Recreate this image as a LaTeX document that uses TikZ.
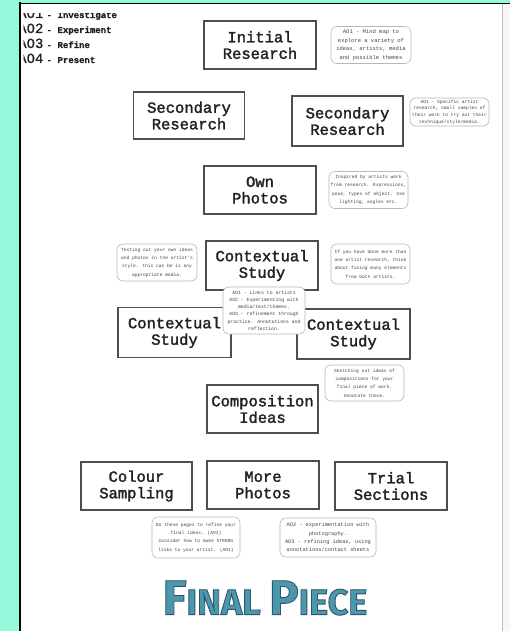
\documentclass[tikz,border=0pt]{standalone}
\usepackage{fontspec}
\usepackage{xcolor}
\usepackage{tikz}
\usetikzlibrary{positioning}
\setmonofont{Liberation Mono}
\newfontfamily\boxfont{Liberation Mono}[FakeBold=2]
\newfontfamily\legendfont{Liberation Mono}[FakeBold=1]
\newfontfamily\notefont{Liberation Mono}
\newfontfamily\piecefont{Fira Sans}
\definecolor{aqua}{HTML}{94F8DB}
\definecolor{ink}{HTML}{222222}
\definecolor{frame}{HTML}{4E4E4E}
\definecolor{notegrey}{HTML}{B8B8B8}
\definecolor{noteink}{HTML}{454545}
\definecolor{piece}{HTML}{4B98AE}
% fill and stroke the title letters
\newcommand{\outlined}[1]{\special{pdf:literal direct 0.9 w 0.18 0.34 0.40 RG 2 Tr}#1\special{pdf:literal direct 0 Tr}}
\newcommand{\initcap}[1]{{\fontsize{49}{49}\selectfont #1}}
\tikzset{
  box/.style={rectangle, draw=frame, line width=1.3pt, fill=white, align=center, inner sep=0pt,
              font=\boxfont\fontsize{15.5}{16.5}\selectfont, text=ink, minimum width=112pt, minimum height=48pt},
  note/.style={rectangle, rounded corners=6pt, draw=notegrey, line width=0.6pt, fill=white, align=center,
               inner sep=0pt, font=\notefont\fontsize{4.6}{8.4}\selectfont, text=noteink,
               minimum width=79pt, minimum height=37pt},
  legend/.style={anchor=base west, inner sep=0pt, text=ink},
  title/.style={font=\piecefont\bfseries\fontsize{36}{36}\selectfont, text=piece, inner sep=0pt}
}
\begin{document}
\begin{tikzpicture}[x=1pt, y=-1pt]
 \fill[aqua] (0,0) rectangle (510,631);
 \useasboundingbox (0,0) rectangle (510,631);
 \fill[white] (20,3.5) rectangle (502,631);
 \fill[black!3] (502,3.5) rectangle (510,631);
 \draw[black!25, line width=0.6pt] (502,3.5) -- (502,631);
 \draw[black, line width=2pt] (20,2.5) -- (20,631);
 \draw[black, line width=1.3pt] (19,3.5) -- (510,3.5);

 % key, cut off by the page edge
 \begin{scope}
  \clip (23.5,14) rectangle (200,80);
  \node[legend] (k1) at (18,18) {{\legendfont\fontsize{14}{14}\selectfont AO1} {\legendfont\bfseries\fontsize{9}{9}\selectfont - Investigate}};
  \node[legend] (k2) at (18,33) {{\legendfont\fontsize{14}{14}\selectfont AO2} {\legendfont\bfseries\fontsize{9}{9}\selectfont - Experiment}};
  \node[legend] (k3) at (18,48) {{\legendfont\fontsize{14}{14}\selectfont AO3} {\legendfont\bfseries\fontsize{9}{9}\selectfont - Refine}};
  \node[legend] (k4) at (18,63) {{\legendfont\fontsize{14}{14}\selectfont AO4} {\legendfont\bfseries\fontsize{9}{9}\selectfont - Present}};
 \end{scope}

 \node[box] (init) at (260,45) {Initial\\Research};
 \node[box, minimum width=111pt, minimum height=47pt] (secL) at (189,115.5) {Secondary\\Research};
 \node[box, minimum width=111pt, minimum height=50pt] (secR) at (347.5,121) {Secondary\\Research};
 \node[box] (own) at (260,190) {Own\\Photos};
 \node[box, line width=1.7pt, minimum height=49pt] (ctx) at (262,265.5) {Contextual\\Study};
 \node[box, minimum width=113pt, minimum height=50pt] (ctxL) at (174.5,332.5) {Contextual\\Study};
 \node[box, minimum width=113pt, minimum height=50pt] (ctxR) at (353.5,334) {Contextual\\Study};
 \node[box, minimum width=111pt] (comp) at (262.5,409) {Composition\\Ideas};
 \node[box, minimum width=111pt] (col) at (136.5,486) {Colour\\Sampling};
 \node[box] (more) at (263,485) {More\\Photos};
 \node[box] (trial) at (391,486) {Trial\\Sections};

 \node[note, right=14pt of init, minimum width=80pt, font=\notefont\fontsize{5.5}{8.7}\selectfont] (nInit) {AO1 - Mind map to\\explore a variety of\\ideas, artists, media\\and possible themes};
 \node[note, minimum height=28pt, font=\notefont\fontsize{4.6}{6.6}\selectfont] (nSec) at (449.5,112) {AO1 - Specific artist\\research, small samples of\\their work to try out their\\technique/style/media.};
 \node[note, right=12pt of own] (nOwn) {Inspired by artists work\\from research. Expressions,\\pose, types of object. Use\\lighting, angles etc.};
 \node[note, minimum width=80pt] (nCtxL) at (157,262.5) {Testing out your own ideas\\and photos in the artist's\\style. this can be is any\\appropriate media.};
 \node[note, minimum height=40pt] (nCtxR) at (370.5,264) {If you have done more than\\one artist research, think\\about fusing many elements\\from both artists.};
 \node[note, minimum width=82pt, minimum height=47pt, font=\notefont\fontsize{4.8}{7.2}\selectfont] (nMid) at (264,310.5) {AO1 - Links to artists\\AO2 - Experimenting with\\media/text/themes.\\AO3 - refinement through\\practice. Annotations and\\reflection.};
 \node[note, minimum height=36pt] (nComp) at (364.5,383) {Sketching out ideas of\\compositions for your\\final piece of work.\\Annotate these.};
 \node[note, minimum width=88pt, minimum height=41pt] (nBotL) at (196,537.5) {Do these pages to refine your\\final ideas. (AO3)\\Consider how to make STRONG\\links to your artist. (AO1)};
 \node[note, minimum width=96pt, minimum height=39pt, font=\notefont\fontsize{5.3}{8.3}\selectfont] (nBotR) at (328,537.5) {AO2 - experimentation with\\photography.\\AO3 - refining ideas, using\\annotations/contact sheets};

 \node[title] (final) at (265,598) {\outlined{\initcap{F}INAL \initcap{P}IECE}};
\end{tikzpicture}
\end{document}
